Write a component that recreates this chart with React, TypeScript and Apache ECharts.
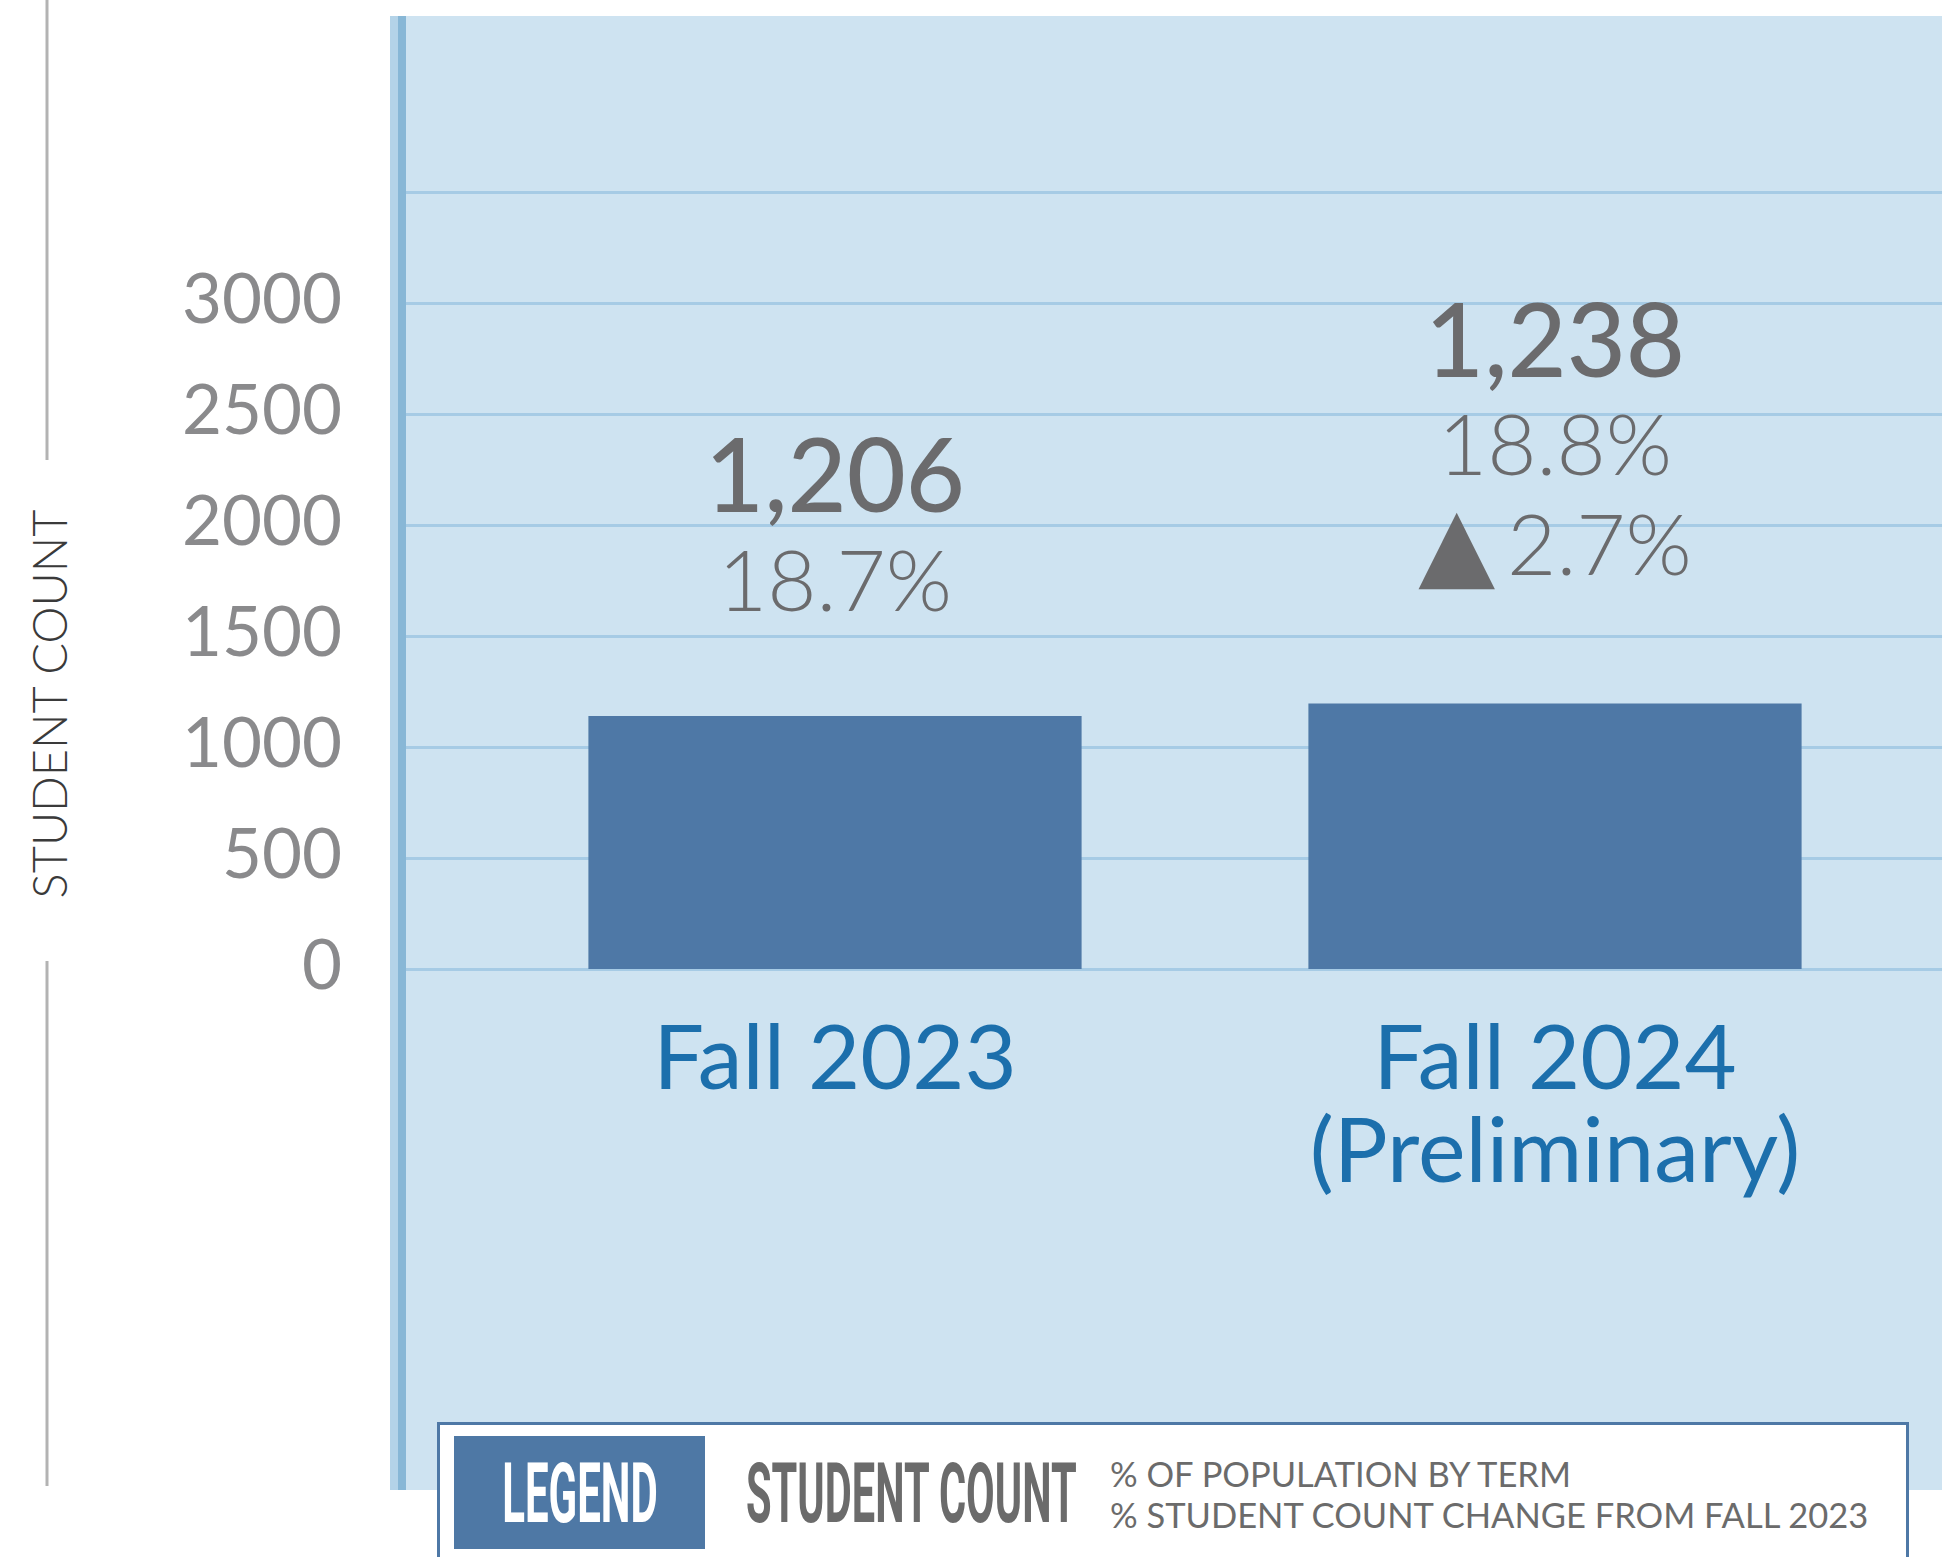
import React, { useEffect, useRef } from "react";
import * as echarts from "echarts";

// ---- data ----
const categories = ["Fall 2023", "Fall 2024\n(Preliminary)"];
const barValues = [1140, 1196];
const countLabels = ["1,206", "1,238"];
const shareLabels = ["18.7%", "18.8%"];
const changeLabels = ["", "2.7%"];
const yMin = 0;
const yMax = 3500;
const yStep = 500;
const hiddenTicks = [3500];
const axisTitle = "STUDENT COUNT";
const legendTitle = "LEGEND";
const legendMain = "STUDENT COUNT";
const legendLines = ["% OF POPULATION BY TERM", "% STUDENT COUNT CHANGE FROM FALL 2023"];
const labelDistances = [88, 111];

const W = 1942;
const H = 1557;

export default function App() {
  const ref = useRef<HTMLDivElement>(null);

  useEffect(() => {
    if (!ref.current) return;
    const chart = echarts.init(ref.current, undefined, { renderer: "svg" });

    const gridTop = 192;
    const gridBottom = H - 969;

    const option: any = {
      animation: false,
      backgroundColor: "#ffffff",
      grid: [
        { left: 406, right: 0, top: gridTop, bottom: gridBottom },
        { left: 475, right: W - 1915, top: gridTop, bottom: gridBottom },
      ],
      xAxis: [
        { gridIndex: 0, type: "value", show: false, min: 0, max: 1 },
        {
          gridIndex: 1,
          type: "category",
          data: categories,
          axisLine: { show: false },
          axisTick: { show: false },
          axisLabel: {
            interval: 0,
            margin: 38,
            fontFamily: "Lato",
            fontSize: 90,
            lineHeight: 93,
            color: "#1c6fac",
          },
        },
      ],
      yAxis: [
        {
          gridIndex: 0,
          type: "value",
          min: yMin,
          max: yMax,
          interval: yStep,
          axisLine: { show: false },
          axisTick: { show: false },
          splitLine: { lineStyle: { color: "#a6cbe5", width: 3 } },
          axisLabel: {
            margin: 64,
            fontFamily: "Lato",
            fontSize: 69,
            color: "#8a8a8c",
            verticalAlign: "bottom",
            lineHeight: 13,
            formatter: (v: number) => (hiddenTicks.includes(v) ? "" : String(v)),
          },
        },
        { gridIndex: 1, type: "value", min: yMin, max: yMax, interval: yStep, show: false },
      ],
      series: [
        {
          type: "bar",
          xAxisIndex: 1,
          yAxisIndex: 1,
          barWidth: "68.5%",
          itemStyle: { color: "#4e78a6" },
          label: {
            show: true,
            position: "top",
            rich: {
              c: { fontFamily: "Lato", fontSize: 102, fontWeight: 500, color: "#6b6b6d", lineHeight: 110 },
              s: { fontFamily: "Lato", fontSize: 85, fontWeight: 300, color: "#6b6b6d", lineHeight: 100 },
              t: { fontFamily: "DejaVu Sans", fontSize: 100, color: "#6b6b6d", lineHeight: 100, padding: [0, 12, 0, 0] },
            },
          },
          data: barValues.map((v, i) => ({
            value: v,
            label: {
              distance: labelDistances[i],
              formatter: changeLabels[i]
                ? `{c|${countLabels[i]}}\n{s|${shareLabels[i]}}\n{t|▲}{s|${changeLabels[i]}}`
                : `{c|${countLabels[i]}}\n{s|${shareLabels[i]}}`,
            },
          })),
        },
      ],
      graphic: [
        // panel background
        { type: "rect", z: -20, shape: { x: 390, y: 16, width: W - 390, height: 1474 }, style: { fill: "#cee3f1" } },
        { type: "rect", z: -19, shape: { x: 390, y: 16, width: 8, height: 1474 }, style: { fill: "#b4d3e8" } },
        { type: "rect", z: -19, shape: { x: 398, y: 16, width: 8, height: 1474 }, style: { fill: "#88b7d6" } },
        // left gray rule around axis title
        { type: "line", z: 5, shape: { x1: 47, y1: 0, x2: 47, y2: 460 }, style: { stroke: "#b3b3b3", lineWidth: 3 } },
        { type: "line", z: 5, shape: { x1: 47, y1: 961, x2: 47, y2: 1486 }, style: { stroke: "#b3b3b3", lineWidth: 3 } },
        {
          type: "text",
          z: 5,
          x: 49,
          y: 704,
          rotation: Math.PI / 2,
          style: {
            text: axisTitle,
            fontFamily: "Lato",
            fontWeight: 300,
            fontSize: 47,
            fill: "#3a3a3a",
            align: "center",
            verticalAlign: "middle",
          },
        },
        // legend box
        {
          type: "rect",
          z: 10,
          shape: { x: 438.5, y: 1423.5, width: 1469, height: 200 },
          style: { fill: "#ffffff", stroke: "#4e78a6", lineWidth: 3 },
        },
        { type: "rect", z: 11, shape: { x: 454, y: 1436, width: 251, height: 113 }, style: { fill: "#4e78a5" } },
        {
          type: "text",
          z: 12,
          x: 580,
          y: 1493,
          scaleX: 0.5,
          style: {
            text: legendTitle,
            fontFamily: "Roboto",
            fontWeight: "bold",
            fontSize: 84,
            fill: "#ffffff",
            align: "center",
            verticalAlign: "middle",
          },
        },
        {
          type: "text",
          z: 12,
          x: 746,
          y: 1493,
          scaleX: 0.495,
          style: {
            text: legendMain,
            fontFamily: "Roboto",
            fontWeight: "bold",
            fontSize: 84,
            fill: "#6b6b6b",
            align: "left",
            verticalAlign: "middle",
          },
        },
        {
          type: "text",
          z: 12,
          x: 1110,
          y: 1473,
          style: {
            text: legendLines[0],
            fontFamily: "Lato",
            fontSize: 34.5,
            fill: "#6b6b6b",
            align: "left",
            verticalAlign: "middle",
          },
        },
        {
          type: "text",
          z: 12,
          x: 1110,
          y: 1514,
          style: {
            text: legendLines[1],
            fontFamily: "Lato",
            fontSize: 34.5,
            fill: "#6b6b6b",
            align: "left",
            verticalAlign: "middle",
          },
        },
      ],
    };

    chart.setOption(option);
    return () => chart.dispose();
  }, []);

  return <div ref={ref} style={{ position: "absolute", left: 0, top: 0, width: W, height: H }} />;
}
